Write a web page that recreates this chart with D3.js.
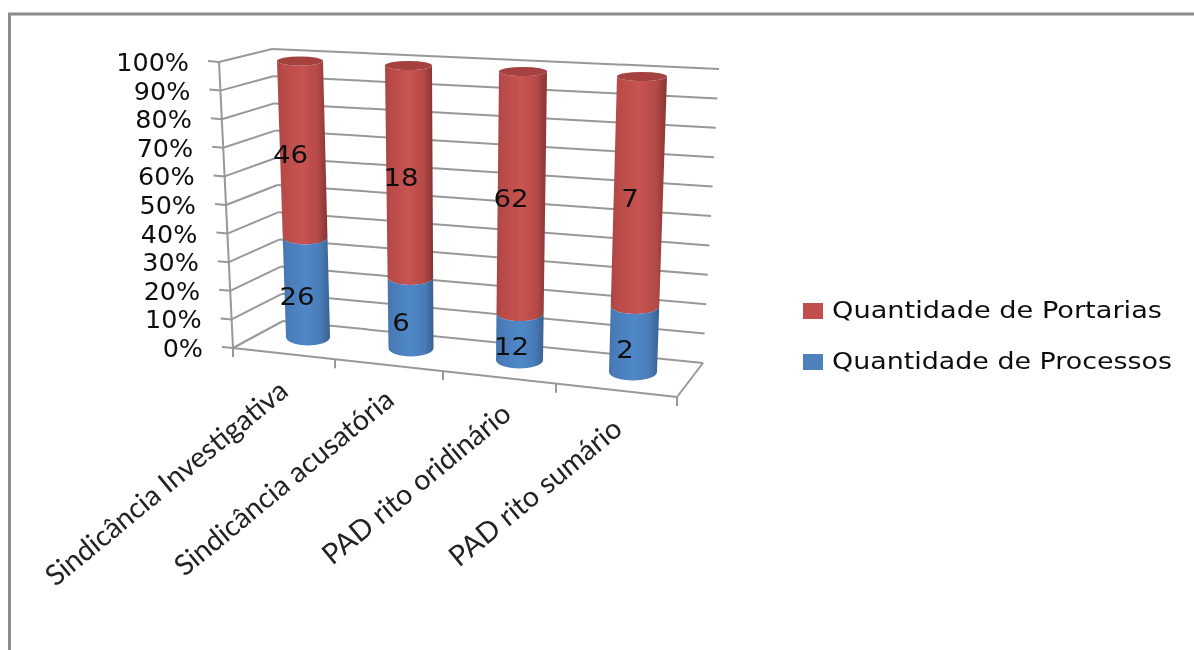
<!DOCTYPE html>
<html><head><meta charset="utf-8">
<script src="https://cdn.jsdelivr.net/npm/d3@7"></script>
<style>html,body{margin:0;padding:0;background:#fff}svg{display:block}</style>
</head><body><div id="c"></div>
<script>
const categories = ["Sindicância Investigativa","Sindicância acusatória","PAD rito oridinário","PAD rito sumário"];
const seriesNames = ["Quantidade de Processos","Quantidade de Portarias"];
const processos = [26,6,12,2];
const portarias = [46,18,62,7];
const percentTicks = [0,10,20,30,40,50,60,70,80,90,100];

const W=1194,H=650;
const svg=d3.select("#c").append("svg").attr("width",W).attr("height",H);
const defs=svg.append("defs");
defs.append("filter").attr("id","soft").attr("x","-5%").attr("y","-5%").attr("width","110%").attr("height","110%")
  .append("feGaussianBlur").attr("stdDeviation",0.6);
function grad(id,stops){
  const g=defs.append("linearGradient").attr("id",id);
  stops.forEach(s=>g.append("stop").attr("offset",s[0]).attr("stop-color",s[1]));
}
grad("gRed",[[0,"#ab4441"],[0.12,"#b84b48"],[0.5,"#c95351"],[0.8,"#b54a47"],[0.95,"#923a38"],[1,"#853331"]]);
grad("gBlue",[[0,"#4375ad"],[0.12,"#4a7cb8"],[0.5,"#5088c9"],[0.8,"#4a7cb8"],[0.95,"#3d689b"],[1,"#365e8d"]]);

svg.append("path").attr("d",`M${W},14 H9.5 V${H}`).attr("fill","none")
  .attr("stroke","#8c8c8c").attr("stroke-width",3);

const g=svg.append("g").attr("filter","url(#soft)");
const axisColor="#989898";

const frontY=d3.scaleLinear().domain([0,100]).range([348,62]);
const frontX=d3.scaleLinear().domain([0,100]).range([233,219]);
const backLeftY=d3.scaleLinear().domain([0,100]).range([321,49]);
const backLeftX=d3.scaleLinear().domain([0,100]).range([283,272]);
const backRightY=d3.scaleLinear().domain([0,100]).range([363,69]);
const backRightX=d3.scaleLinear().domain([0,100]).range([703,719]);

const ln=(x1,y1,x2,y2,w=2)=>g.append("line").attr("x1",x1).attr("y1",y1).attr("x2",x2).attr("y2",y2)
  .attr("stroke",axisColor).attr("stroke-width",w);

percentTicks.forEach(t=>{
  ln(frontX(t),frontY(t),backLeftX(t),backLeftY(t));
  ln(backLeftX(t),backLeftY(t),backRightX(t),backRightY(t));
  ln(frontX(t)-11,frontY(t)-1,frontX(t),frontY(t));
  g.append("text").attr("transform",`translate(${frontX(t)-30},${frontY(t)+9}) scale(1.06,1)`)
    .attr("text-anchor","end").attr("font-family","DejaVu Sans").attr("font-size",24)
    .attr("fill","#111").text(t+"%");
});
ln(frontX(0),frontY(0),frontX(100),frontY(100));
const floorFront=[677,397];
ln(frontX(0),frontY(0),floorFront[0],floorFront[1]);
ln(floorFront[0],floorFront[1],backRightX(0),backRightY(0));
const tickXs=[233,335,443,556,677];
tickXs.forEach(tx=>{
  const ty=348+(tx-233)*(floorFront[1]-348)/(floorFront[0]-233);
  ln(tx,ty,tx,ty+9);
});

const idx=[0,1,2,3];
const topX=d3.scaleLinear().domain(idx).range([300,408.5,523,642]);
const topY=d3.scaleLinear().domain(idx).range([61,65.5,71.5,76.5]);
const botX=d3.scaleLinear().domain(idx).range([308,411,519.5,633]);
const botY=d3.scaleLinear().domain(idx).range([337,348,360,372]);
const topRx=d3.scaleLinear().domain(idx).range([23,23.5,24,25]);
const botRx=d3.scaleLinear().domain(idx).range([22,22.5,23.5,24]);
const share=d3.scaleLinear().domain([0,1]);
function cyl(i,a,b,fill,capFill){
  share.range([botX(i),topX(i)]); const xa=share(a),xb=share(b);
  share.range([botY(i),topY(i)]); const ya=share(a),yb=share(b);
  share.range([botRx(i),topRx(i)]); const ra=share(a),rb=share(b);
  share.range([8.5,4.5]); const rya=share(a),ryb=share(b);
  g.append("path").attr("fill",`url(#${fill})`).attr("d",
    `M${xb-rb},${yb} L${xa-ra},${ya} A${ra},${rya} 0 0 0 ${xa+ra},${ya} L${xb+rb},${yb} A${rb},${ryb} 0 0 1 ${xb-rb},${yb}Z`);
  if(capFill) g.append("ellipse").attr("cx",xb).attr("cy",yb).attr("rx",rb).attr("ry",ryb).attr("fill",capFill);
}
categories.forEach((c,i)=>{
  const total=processos[i]+portarias[i], s=processos[i]/total;
  cyl(i,s,1,"gRed","#a54240");
  cyl(i,0,s,"gBlue",null);
});

const put=(x,y,t)=>g.append("text").attr("transform",`translate(${x},${y}) scale(1.15,1)`)
  .attr("font-family","DejaVu Sans").attr("font-size",24).attr("fill","#111").attr("text-anchor","middle").text(t);
const lblX1=[290.5,401,511,630], lblY1=[163,186,207,207];
const lblX2=[297,401,511.5,625], lblY2=[305,331,355,358];
categories.forEach((c,i)=>{ put(lblX1[i],lblY1[i],portarias[i]); put(lblX2[i],lblY2[i],processos[i]); });

const catAnchor=[[290,394],[396,403],[513,417],[624,432]];
categories.forEach((c,i)=>{
  g.append("text").attr("transform",`translate(${catAnchor[i][0]},${catAnchor[i][1]}) rotate(-39.5)`)
   .attr("text-anchor","end").attr("font-family","Lato").attr("font-size",28.5).attr("fill","#222").text(c);
});

const legendFit={"Quantidade de Portarias":330,"Quantidade de Processos":340};
[[1,311,318],[0,362,369]].forEach(([k,y,b])=>{
  g.append("rect").attr("x",803).attr("y",y-8).attr("width",20).attr("height",16)
    .attr("fill",k?"#c0504d":"#4f81bd");
  g.append("text").attr("x",832).attr("y",b).attr("font-family","DejaVu Sans").attr("font-size",23)
    .attr("textLength",legendFit[seriesNames[k]]).attr("lengthAdjust","spacingAndGlyphs")
    .attr("fill","#111").text(seriesNames[k]);
});
</script></body></html>
